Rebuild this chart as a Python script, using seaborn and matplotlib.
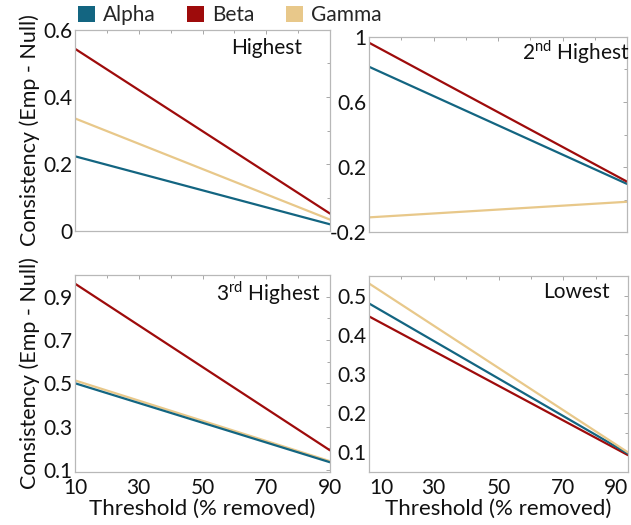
import numpy as np
import pandas as pd
import matplotlib
matplotlib.use("Agg")
import matplotlib.pyplot as plt
from matplotlib.patches import Patch
from matplotlib.ticker import MultipleLocator, FixedLocator
import seaborn as sns

sns.set_theme(style="white")
plt.rcParams['font.family'] = ['Lato', 'DejaVu Sans']

thresholds = [10, 90]
series = ["Alpha", "Beta", "Gamma"]
colors = {"Alpha": "#136581", "Beta": "#9e0b0b", "Gamma": "#e8c88a"}

highest_alpha = [0.223, 0.020]
highest_beta = [0.544, 0.052]
highest_gamma = [0.336, 0.034]

second_alpha = [0.817, 0.096]
second_beta = [0.965, 0.110]
second_gamma = [-0.110, -0.014]

third_alpha = [0.500, 0.135]
third_beta = [0.960, 0.190]
third_gamma = [0.513, 0.140]

lowest_alpha = [0.480, 0.097]
lowest_beta = [0.447, 0.093]
lowest_gamma = [0.531, 0.100]

panel_titles = ["Highest", r"2$^{\mathregular{nd}}$ Highest", r"3$^{\mathregular{rd}}$ Highest", "Lowest"]
panel_data = [
    (highest_alpha, highest_beta, highest_gamma),
    (second_alpha, second_beta, second_gamma),
    (third_alpha, third_beta, third_gamma),
    (lowest_alpha, lowest_beta, lowest_gamma),
]
ylims = [(0, 0.6), (-0.2, 1.0), (0.09, 1.0), (0.05, 0.55)]
ymajor = [[0, 0.2, 0.4, 0.6], [-0.2, 0.2, 0.6, 1.0], [0.1, 0.3, 0.5, 0.7, 0.9], [0.1, 0.2, 0.3, 0.4, 0.5]]
yticklabels = [["0", "0.2", "0.4", "0.6"], ["-0.2", "0.2", "0.6", "1"],
               ["0.1", "0.3", "0.5", "0.7", "0.9"], ["0.1", "0.2", "0.3", "0.4", "0.5"]]
yminor = [0.1, 0.2, 0.1, 0.05]
xticks = [10, 30, 50, 70, 90]
xticklabels = ["10", "30", "50", "70", "90"]

W, H = 631, 525
fig = plt.figure(figsize=(W / 100, H / 100), dpi=100)
rects = [
    (75 / W, 1 - 231 / H, 255 / W, 201 / H),
    (369 / W, 1 - 232 / H, 258 / W, 195 / H),
    (75 / W, 1 - 472 / H, 255 / W, 197 / H),
    (369 / W, 1 - 472 / H, 259 / W, 196 / H),
]
title_pos = [(0.75, 0.91), (0.80, 0.92), (0.76, 0.91), (0.80, 0.92)]

spine_col = "#b8b8b8"
for i, rect in enumerate(rects):
    ax = fig.add_axes(rect)
    a, b, g = panel_data[i]
    df = pd.DataFrame({
        "x": thresholds * 3,
        "y": list(a) + list(b) + list(g),
        "s": ["Alpha"] * len(a) + ["Beta"] * len(b) + ["Gamma"] * len(g),
    })
    order = ["Gamma", "Alpha", "Beta"] if i != 3 else ["Beta", "Alpha", "Gamma"]
    for s in order:
        sns.lineplot(data=df[df.s == s], x="x", y="y", color=colors[s], lw=1.6, ax=ax,
                     legend=False)
    ax.set_xlim(10, 90)
    ax.set_ylim(*ylims[i])
    ax.xaxis.set_major_locator(FixedLocator(xticks))
    ax.xaxis.set_minor_locator(MultipleLocator(10))
    ax.yaxis.set_major_locator(FixedLocator(ymajor[i]))
    ax.set_yticklabels(yticklabels[i])
    ax.yaxis.set_minor_locator(MultipleLocator(yminor[i]))
    ax.tick_params(which="both", direction="in", top=True, right=True, color="#999999",
                   length=3, width=0.6, labelsize=15, pad=2, labelcolor="#111111")
    ax.tick_params(axis="x", pad=4)
    ax.tick_params(which="minor", length=2)
    for sp in ax.spines.values():
        sp.set_color(spine_col)
        sp.set_linewidth(0.9)
    ax.set_xlabel("")
    ax.set_ylabel("")
    if i < 2:
        ax.set_xticklabels([])
    else:
        ax.set_xticklabels(xticklabels)
        ax.set_xlabel("Threshold (% removed)", fontsize=16, labelpad=1, color="#111111")
        if i == 3:
            labs = ax.get_xticklabels()
            labs[0].set_ha("left")
            labs[-1].set_ha("right")
    if i % 2 == 0:
        ax.set_ylabel("Consistency (Emp - Null)", fontsize=15.5, labelpad=2, color="#111111")
    ax.text(title_pos[i][0], title_pos[i][1], panel_titles[i], transform=ax.transAxes,
            ha="center", va="center", fontsize=15, color="#111111")

handles = [Patch(facecolor=colors[s], edgecolor="none", label=s) for s in series]
fig.legend(handles=handles, loc="upper left", bbox_to_anchor=(0.101, 1.018), ncol=3,
           frameon=False, fontsize=15, handlelength=0.8, handleheight=0.8,
           handletextpad=0.4, columnspacing=1.5, borderpad=0.2)

fig.savefig("out.png", dpi=100)
